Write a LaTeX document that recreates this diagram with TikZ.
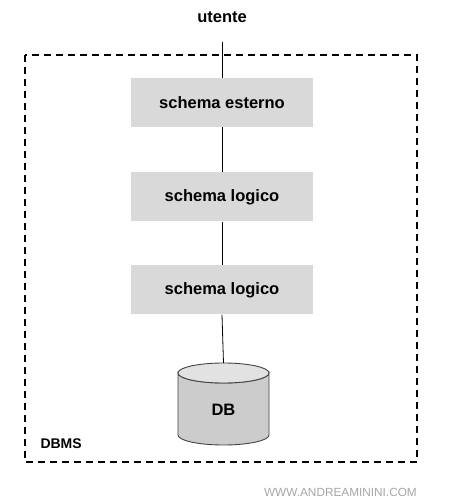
\documentclass[tikz,border=0pt]{standalone}
\usepackage{fontspec}
\setmainfont{Liberation Sans}
\begin{document}
\begin{tikzpicture}[x=1pt,y=1pt,
  schemabox/.style={fill=boxgray, minimum width=182pt, minimum height=49pt, inner sep=0pt, font=\fontsize{16.5}{18}\selectfont\bfseries},
  conn/.style={draw=black, line width=0.8pt}]
\definecolor{boxgray}{HTML}{D9D9D9}
\definecolor{cylgray}{HTML}{CCCCCC}
\definecolor{cyltop}{HTML}{E2E2E2}
\definecolor{cylline}{HTML}{444444}
\definecolor{wmgray}{HTML}{A6A6A6}
\useasboundingbox (0,0) rectangle (452,504);
% DBMS frame
\draw[line width=1.5pt, dash pattern=on 7pt off 5pt] (25,449) rectangle (417,42);
\node[font=\fontsize{14}{16}\selectfont\bfseries, anchor=west] (dbms) at (37,60) {DBMS};
% user
\node[font=\fontsize{16.5}{18}\selectfont\bfseries] (utente) at (222,487) {utente};
\coordinate (utop) at (222,462);
% boxes
\node[schemabox] (est) at (222,401.5) {schema esterno};
\node[schemabox] (log1) at (222,307) {schema logico};
\node[schemabox] (log2) at (222,214) {schema logico};
% cylinder
\coordinate (dbtop) at (223.5,141);
\filldraw[fill=cylgray, draw=cylline, line width=0.9pt]
  (178,131) -- (178,69) arc[start angle=180, end angle=360, x radius=45.5, y radius=10] -- (269,131)
  arc[start angle=0, end angle=-180, x radius=45.5, y radius=10] -- cycle;
\filldraw[fill=cyltop, draw=cylline, line width=0.9pt] (223.5,131) ellipse[x radius=45.5, y radius=10];
\node[font=\fontsize{16.5}{18}\selectfont\bfseries] (db) at (223.5,94) {DB};
% connectors
\draw[conn] (utop) -- (est.north);
\draw[conn] (est.south) -- (log1.north);
\draw[conn] (log1.south) -- (log2.north);
\draw[conn] (log2.south) -- (dbtop);
% watermark
\node[font=\fontsize{11.8}{13}\selectfont, text=wmgray, anchor=east, inner sep=0pt] (wm) at (417,12) {WWW.ANDREAMININI.COM};
\end{tikzpicture}
\end{document}
